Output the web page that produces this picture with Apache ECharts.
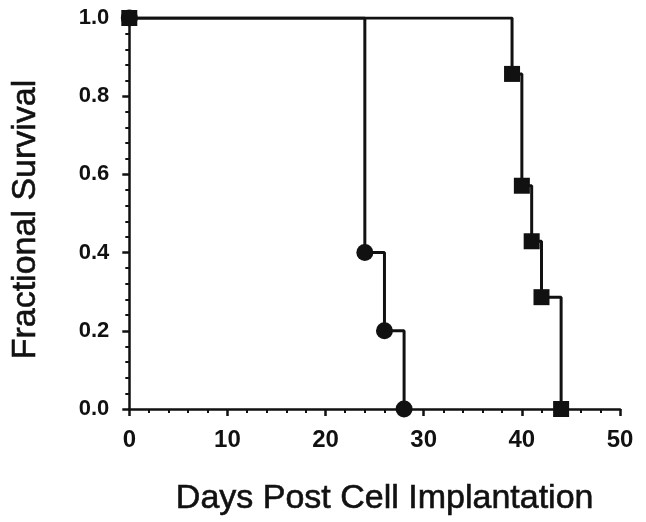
<!DOCTYPE html>
<html><head><meta charset="utf-8">
<script src="https://cdn.jsdelivr.net/npm/echarts@6/dist/echarts.min.js"></script>
<style>html,body{margin:0;padding:0;background:#fff}#c{width:646px;height:522px}</style>
</head><body><div id="c"></div>
<script>
var circleDays = [0, 24, 26, 28];
var circleSurvival = [1.0, 0.4, 0.2, 0.0];
var squareDays = [0, 39, 40, 41, 42, 44];
var squareSurvival = [1.0, 0.857, 0.571, 0.429, 0.286, 0.0];
var xTicks = [0, 10, 20, 30, 40, 50];
var yTicks = [0.0, 0.2, 0.4, 0.6, 0.8, 1.0];

function pairs(xs, ys) { return xs.map(function (x, i) { return [x, ys[i]]; }); }
var font = '"Liberation Sans", Arial, sans-serif';
var chart = echarts.init(document.getElementById('c'), null, {renderer: 'canvas'});
chart.setOption({
  animation: false,
  backgroundColor: '#fff',
  grid: {left: 128, right: 26, top: 18, bottom: 113},
  xAxis: {
    type: 'value', min: xTicks[0], max: xTicks[xTicks.length - 1], interval: 10,
    name: 'Days Post Cell Implantation', nameLocation: 'middle', nameGap: 73,
    nameTextStyle: {fontFamily: font, fontSize: 34, color: '#111', textBorderColor: '#111', textBorderWidth: 0.6,
      padding: [0, 0, 0, 20]},
    axisLine: {show: true, lineStyle: {color: '#111', width: 2.5}},
    axisTick: {show: true, length: 7, lineStyle: {color: '#111', width: 2.5}},
    minorTick: {show: true, splitNumber: 5, length: 4, lineStyle: {color: '#111', width: 2}},
    splitLine: {show: false},
    axisLabel: {margin: 19, fontFamily: font, fontWeight: 'bold', fontSize: 24, color: '#111'}
  },
  yAxis: {
    type: 'value', min: yTicks[0], max: yTicks[yTicks.length - 1], interval: 0.2,
    name: 'Fractional Survival', nameLocation: 'middle', nameGap: 87,
    nameTextStyle: {fontFamily: font, fontSize: 34, color: '#111', textBorderColor: '#111', textBorderWidth: 0.6,
      padding: [0, 12, 0, 0]},
    axisLine: {show: true, lineStyle: {color: '#111', width: 2.5}},
    axisTick: {show: true, length: 7, lineStyle: {color: '#111', width: 2.5}},
    minorTick: {show: true, splitNumber: 5, length: 4, lineStyle: {color: '#111', width: 2}},
    splitLine: {show: false},
    axisLabel: {margin: 20, fontFamily: font, fontWeight: 'bold', fontSize: 22, color: '#111',
      formatter: function (v) { return v.toFixed(1); }}
  },
  series: [
    {type: 'line', step: 'end', data: pairs(circleDays, circleSurvival),
     symbol: 'circle', symbolSize: 17, showAllSymbol: true,
     lineStyle: {color: '#111', width: 3}, itemStyle: {color: '#111'}, z: 2},
    {type: 'line', step: 'end', data: pairs(squareDays, squareSurvival),
     symbol: 'rect', symbolSize: 16, showAllSymbol: true,
     lineStyle: {color: '#111', width: 3}, itemStyle: {color: '#111'}, z: 3}
  ]
});
</script></body></html>
